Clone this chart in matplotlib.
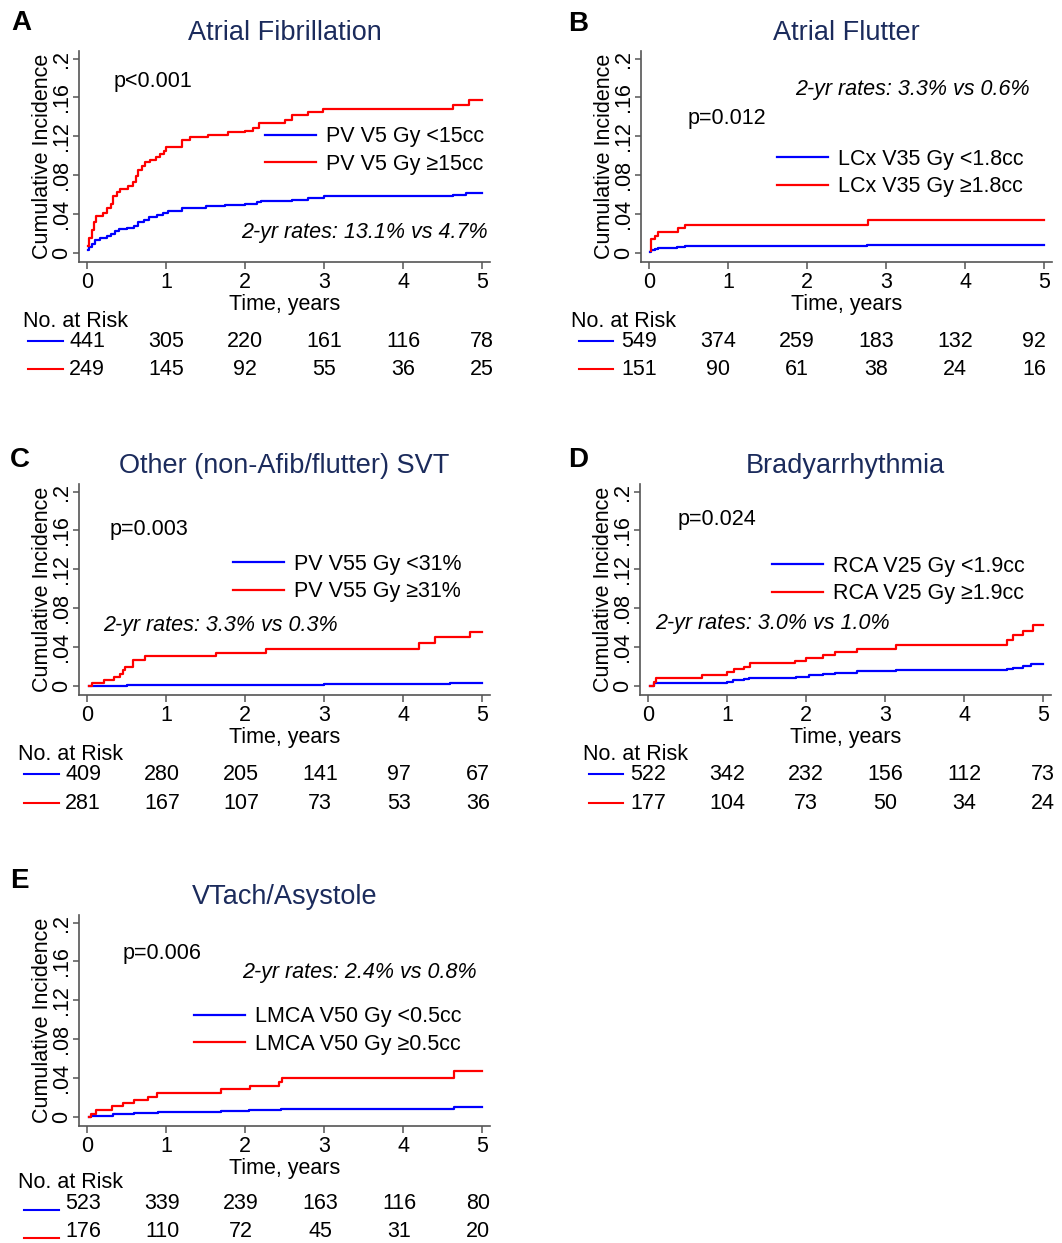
import matplotlib
matplotlib.use("Agg")
import matplotlib.pyplot as plt
import matplotlib.transforms as mtransforms
from matplotlib.lines import Line2D

plt.rcParams['font.family'] = ['Liberation Sans', 'DejaVu Sans']

W, H = 1062, 1243
PX_X = 79       # pixels per year
PX_Y = 972      # pixels per unit of incidence
AX_W = 5.2 * PX_X
AX_H = 0.2175 * PX_Y

AZUL = '#0000ff'
VERMELHO = '#ff0000'
TITULO_COR = '#1b2b5c'
EIXO_COR = '#555555'
FS = 15.5

XTICKS = [0, 1, 2, 3, 4, 5]
YTICKS = [0, 0.04, 0.08, 0.12, 0.16, 0.2]
YTICK_LABELS = ['0', '.04', '.08', '.12', '.16', '.2']

# A - Atrial Fibrillation
af_t_low = [0.01, 0.03, 0.06, 0.1, 0.16, 0.25, 0.3, 0.35, 0.4, 0.5, 0.6, 0.65, 0.72, 0.78, 0.88,
            0.96, 1.02, 1.2, 1.5, 1.75, 2.0, 2.15, 2.2, 2.6, 2.8, 3.0, 4.63, 4.8, 5.0]
af_y_low = [0.003, 0.006, 0.009, 0.013, 0.015, 0.017, 0.02, 0.023, 0.025, 0.026, 0.028, 0.032, 0.034, 0.037, 0.039,
            0.041, 0.043, 0.046, 0.048, 0.049, 0.05, 0.052, 0.053, 0.055, 0.057, 0.059, 0.06, 0.062, 0.062]
af_t_high = [0.01, 0.03, 0.06, 0.09, 0.12, 0.2, 0.25, 0.3, 0.33, 0.38, 0.42, 0.52, 0.58, 0.62, 0.65, 0.7,
             0.74, 0.8, 0.87, 0.93, 0.97, 1.0, 1.2, 1.3, 1.53, 1.78, 2.0, 2.1, 2.18, 2.5, 2.6, 2.8, 2.99,
             4.63, 4.83, 5.0]
af_y_high = [0.007, 0.015, 0.024, 0.032, 0.038, 0.041, 0.046, 0.05, 0.059, 0.063, 0.066, 0.069, 0.073, 0.079,
             0.085, 0.089, 0.094, 0.096, 0.099, 0.102, 0.105, 0.109, 0.116, 0.119, 0.121, 0.124, 0.126, 0.129,
             0.134, 0.137, 0.142, 0.145, 0.148, 0.152, 0.157, 0.157]
af_risk_low = [441, 305, 220, 161, 116, 78]
af_risk_high = [249, 145, 92, 55, 36, 25]
af_labels = ['PV V5 Gy <15cc', 'PV V5 Gy \u226515cc']

# B - Atrial Flutter
fl_t_low = [0.01, 0.03, 0.08, 0.12, 0.35, 0.45, 2.76, 5.0]
fl_y_low = [0.001, 0.003, 0.004, 0.005, 0.006, 0.0068, 0.0078, 0.0078]
fl_t_high = [0.02, 0.03, 0.08, 0.12, 0.37, 0.45, 2.77, 5.0]
fl_y_high = [0.002, 0.014, 0.018, 0.022, 0.026, 0.029, 0.034, 0.034]
fl_risk_low = [549, 374, 259, 183, 132, 92]
fl_risk_high = [151, 90, 61, 38, 24, 16]
fl_labels = ['LCx V35 Gy <1.8cc', 'LCx V35 Gy \u22651.8cc']

# C - Other SVT
svt_t_low = [0.02, 0.2, 0.5, 1.5, 3.0, 4.2, 4.6, 5.0]
svt_y_low = [0.0, 0.0005, 0.001, 0.0015, 0.002, 0.0025, 0.003, 0.003]
svt_t_high = [0.02, 0.06, 0.22, 0.34, 0.42, 0.45, 0.48, 0.58, 0.74, 1.63, 2.27, 4.2, 4.4, 4.85, 5.0]
svt_y_high = [0.0, 0.003, 0.0065, 0.0095, 0.012, 0.0165, 0.02, 0.027, 0.031, 0.034, 0.038, 0.044, 0.05,
              0.056, 0.056]
svt_risk_low = [409, 280, 205, 141, 97, 67]
svt_risk_high = [281, 167, 107, 73, 53, 36]
svt_labels = ['PV V55 Gy <31%', 'PV V55 Gy \u226531%']

# D - Bradyarrhythmia
br_t_low = [0.03, 0.08, 0.68, 1.0, 1.08, 1.22, 1.28, 1.87, 2.04, 2.22, 2.37, 2.64, 3.14, 4.55, 4.62, 4.75,
            4.85, 5.0]
br_y_low = [0.0, 0.0027, 0.0034, 0.0045, 0.006, 0.007, 0.008, 0.0095, 0.011, 0.0124, 0.0137, 0.015, 0.0163,
            0.0175, 0.019, 0.0205, 0.023, 0.023]
br_t_high = [0.03, 0.07, 0.1, 0.68, 1.0, 1.09, 1.22, 1.29, 1.86, 2.0, 2.22, 2.37, 2.64, 3.14, 4.55, 4.62,
             4.75, 4.87, 5.0]
br_y_high = [0.0, 0.0045, 0.0086, 0.0113, 0.0147, 0.0175, 0.02, 0.0235, 0.026, 0.029, 0.032, 0.035, 0.038,
             0.042, 0.047, 0.052, 0.057, 0.063, 0.063]
br_risk_low = [522, 342, 232, 156, 112, 73]
br_risk_high = [177, 104, 73, 50, 34, 24]
br_labels = ['RCA V25 Gy <1.9cc', 'RCA V25 Gy \u22651.9cc']

# E - VTach/Asystole
vt_t_low = [0.02, 0.05, 0.15, 0.33, 0.6, 0.9, 1.7, 2.05, 2.45, 4.65, 5.0]
vt_y_low = [0.0, 0.001, 0.0015, 0.0027, 0.0038, 0.0048, 0.0062, 0.0069, 0.0086, 0.01, 0.01]
vt_t_high = [0.02, 0.05, 0.12, 0.32, 0.45, 0.6, 0.77, 0.89, 1.7, 2.06, 2.43, 2.47, 4.65, 5.0]
vt_y_high = [0.0, 0.0036, 0.0073, 0.011, 0.0142, 0.0177, 0.021, 0.025, 0.0287, 0.032, 0.0365, 0.0405,
             0.047, 0.047]
vt_risk_low = [523, 339, 239, 163, 116, 80]
vt_risk_high = [176, 110, 72, 45, 31, 20]
vt_labels = ['LMCA V50 Gy <0.5cc', 'LMCA V50 Gy \u22650.5cc']

fig = plt.figure(figsize=(W / 100, H / 100), dpi=100)


def painel(letra, titulo, x0, y0, t_low, y_low, t_high, y_high, labels, risk_low, risk_high,
           p_txt, rate_txt, lay):
    # x0, y0: pixel position of (t=0, incidence=0)
    left = (x0 - 0.1 * PX_X) / W
    bottom = 1 - (y0 + 0.0095 * PX_Y) / H
    ax = fig.add_axes([left, bottom, AX_W / W, AX_H / H])

    ax.step(t_low, y_low, where='post', color=AZUL, lw=1.6, label=labels[0])
    ax.step(t_high, y_high, where='post', color=VERMELHO, lw=1.6, label=labels[1])

    ax.set_xlim(-0.1, 5.1)
    ax.set_ylim(-0.0095, 0.208)
    for s in ['top', 'right']:
        ax.spines[s].set_visible(False)
    for s in ['left', 'bottom']:
        ax.spines[s].set_color(EIXO_COR)
        ax.spines[s].set_linewidth(1.2)

    ax.set_xticks(XTICKS)
    ax.set_yticks(YTICKS)
    ax.set_yticklabels(YTICK_LABELS, rotation=90, va='center')
    ax.tick_params(axis='both', colors=EIXO_COR, labelcolor='black', labelsize=FS, width=1.1)
    ax.tick_params(axis='x', length=5, pad=2)
    ax.tick_params(axis='y', length=4, pad=1)

    ax.text(-37 / AX_W, 0.5, 'Cumulative Incidence', transform=ax.transAxes, rotation=90,
            ha='center', va='center', fontsize=FS)
    ax.text(0.5, -42 / AX_H, 'Time, years', transform=ax.transAxes, ha='center', va='center', fontsize=FS)
    ax.text(0.5, 1 + 18 / AX_H, titulo, transform=ax.transAxes, ha='center', va='center',
            fontsize=19.5, color=TITULO_COR)

    ax.legend(loc='center left', bbox_to_anchor=lay['leg'], frameon=False, fontsize=FS,
              handlelength=2.37, handletextpad=0.45, labelspacing=0.31, borderpad=0, borderaxespad=0)

    ax.text(lay['p'][0], lay['p'][1], p_txt, transform=ax.transAxes, ha='left', va='center', fontsize=FS)
    ax.text(lay['rate'][0], lay['rate'][1], rate_txt, transform=ax.transAxes, ha=lay['rate'][2],
            va='center', fontsize=FS, style='italic')

    fig.text(lay['letra'][0] / W, 1 - lay['letra'][1] / H, letra, ha='center', va='center',
             fontsize=20, fontweight='bold')

    # number at risk table
    trans = mtransforms.blended_transform_factory(ax.transData, ax.transAxes)
    rows = lay['rows']
    ax.text(lay['nleft'], -rows[0] / AX_H, 'No. at Risk', transform=trans, ha='left', va='center',
            fontsize=FS, clip_on=False)
    for k, (vals, cor) in enumerate([(risk_low, AZUL), (risk_high, VERMELHO)]):
        yy = -rows[k + 1] / AX_H
        for t, n in zip(XTICKS, vals):
            ax.text(t + lay['shift'], yy, str(n), transform=trans, ha='center', va='center',
                    fontsize=FS, clip_on=False)
        yl = yy - lay['line_dy'] / AX_H
        ax.add_line(Line2D(lay['line'], [yl, yl], transform=trans, color=cor, lw=1.5, clip_on=False))


painel('A', 'Atrial Fibrillation', 87, 253, af_t_low, af_y_low, af_t_high, af_y_high, af_labels,
       af_risk_low, af_risk_high, 'p<0.001', '2-yr rates: 13.1% vs 4.7%',
       dict(leg=(0.4526, 0.528), p=(0.083, 0.857), rate=(0.995, 0.143, 'right'), letra=(21, 23),
            rows=(59, 79, 107), nleft=-0.81, shift=0.0, line=(-0.75, -0.30), line_dy=0))

painel('B', 'Atrial Flutter', 649, 253, fl_t_low, fl_y_low, fl_t_high, fl_y_high, fl_labels,
       fl_risk_low, fl_risk_high, 'p=0.012', '2-yr rates: 3.3% vs 0.6%',
       dict(leg=(0.331, 0.422), p=(0.112, 0.682), rate=(0.946, 0.815, 'right'), letra=(578, 24),
            rows=(59, 79, 107), nleft=-0.99, shift=-0.127, line=(-0.89, -0.46), line_dy=0))

painel('C', 'Other (non-Afib/flutter) SVT', 87, 686, svt_t_low, svt_y_low, svt_t_high, svt_y_high,
       svt_labels, svt_risk_low, svt_risk_high, 'p=0.003', '2-yr rates: 3.3% vs 0.3%',
       dict(leg=(0.3747, 0.554), p=(0.075, 0.786), rate=(0.058, 0.332, 'left'), letra=(20, 460),
            rows=(59, 79, 108), nleft=-0.87, shift=-0.05, line=(-0.80, -0.35), line_dy=0))

painel('D', 'Bradyarrhythmia', 648, 686, br_t_low, br_y_low, br_t_high, br_y_high, br_labels,
       br_risk_low, br_risk_high, 'p=0.024', '2-yr rates: 3.0% vs 1.0%',
       dict(leg=(0.321, 0.545), p=(0.09, 0.829), rate=(0.036, 0.337, 'left'), letra=(578, 460),
            rows=(59, 79, 108), nleft=-0.82, shift=0.0, line=(-0.75, -0.32), line_dy=0))

painel('E', 'VTach/Asystole', 87, 1117, vt_t_low, vt_y_low, vt_t_high, vt_y_high, vt_labels,
       vt_risk_low, vt_risk_high, 'p=0.006', '2-yr rates: 2.4% vs 0.8%',
       dict(leg=(0.28, 0.453), p=(0.105, 0.819), rate=(0.968, 0.725, 'right'), letra=(19, 881),
            rows=(56, 77, 105), nleft=-0.87, shift=-0.05, line=(-0.80, -0.35), line_dy=7))

fig.savefig('out.png', dpi=100)
